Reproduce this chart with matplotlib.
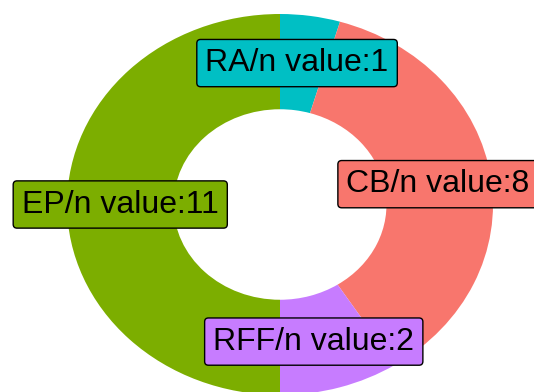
import numpy as np
import matplotlib
matplotlib.use("Agg")
import matplotlib.pyplot as plt

categories = ["RA", "CB", "RFF", "EP"]
values = [1, 8, 2, 11]
colors = ["#00BFC4", "#F8766D", "#C77CFF", "#7CAE00"]

plt.rcParams['font.family'] = ['Liberation Sans', 'DejaVu Sans']

fig = plt.figure(figsize=(5.34, 3.92), dpi=100)
ax = fig.add_axes([0, 0, 1, 1])
ax.pie(values, colors=colors, startangle=90, counterclock=False,
       radius=1.0, wedgeprops=dict(width=0.5, linewidth=0, antialiased=True))
ax.set_aspect('auto')
ax.set_xlim(-280 / 213, (534 - 280) / 213)
ax.set_ylim(-187.5 / 190.5, (392 - 187.5) / 190.5)
ax.axis('off')

total = sum(values)
cum = np.cumsum([0] + values)
for i, (cat, v) in enumerate(zip(categories, values)):
    mid = (cum[i] + cum[i + 1]) / 2 / total * 2 * np.pi
    r = 0.75
    x = r * np.sin(mid) * 0.75 if abs(np.sin(mid)) < 0.5 else r * np.sin(mid)
    y = r * np.cos(mid)
    ax.text(x, y, f"{cat}/n value:{v}", ha='center', va='center',
            fontsize=23, color='black',
            bbox=dict(boxstyle="round,pad=0.27,rounding_size=0.12",
                      facecolor=colors[i], edgecolor='black', linewidth=1.0),
            clip_on=False)

fig.savefig("out.png", dpi=100)
